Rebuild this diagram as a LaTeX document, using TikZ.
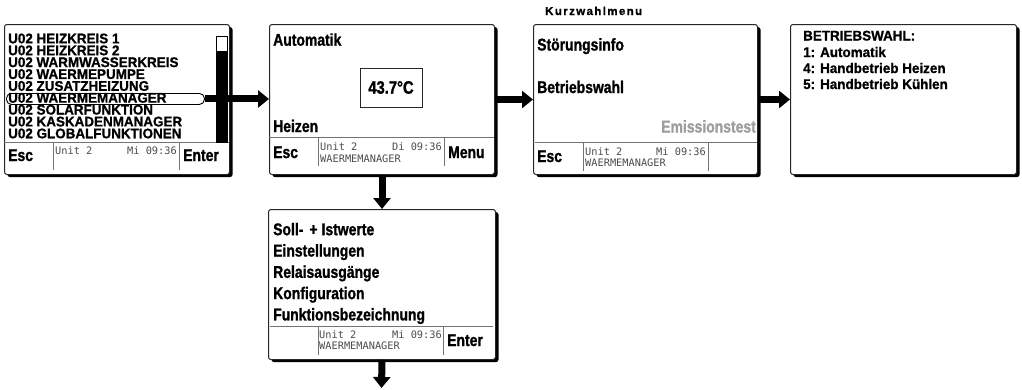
\documentclass[tikz,border=0pt]{standalone}
\usepackage{fontspec}
\setmainfont{Liberation Sans}
\newfontfamily\bodyf{Liberation Sans}[FakeStretch=0.82,FakeBold=1.2]
\newfontfamily\capsf{Liberation Sans}[FakeStretch=0.96,FakeBold=1.0]
\newfontfamily\kurzf{Liberation Sans}[LetterSpace=12,FakeBold=1.0]
\newfontfamily\monof{DejaVu Sans Mono}
\usetikzlibrary{arrows.meta,shadows}
\definecolor{lcdgray}{gray}{0.3}
\definecolor{dimgray}{gray}{0.62}
\begin{document}
\begin{tikzpicture}[x=1pt,y=-1pt,
  screen/.style={draw=black!85, line width=1pt, rounded corners=2.5pt, fill=white,
    inner sep=0, anchor=north west,
    drop shadow={shadow xshift=3pt, shadow yshift=-2.6pt, fill=black, opacity=1}},
  sepline/.style={draw=black!55, line width=0.9pt},
  bodytxt/.style={font=\bodyf\bfseries\fontsize{17}{17}\selectfont, inner sep=0, anchor=base west},
  capstxt/.style={font=\capsf\bfseries\fontsize{14}{14}\selectfont, inner sep=0, anchor=base west},
  lcd/.style={font=\monof\fontsize{10.3}{10.3}\selectfont, text=lcdgray, inner sep=0, anchor=base west},
  lcdr/.style={lcd, anchor=base east},
  bigarrow/.style={line width=7pt, -{Triangle[length=11pt, width=17pt]}},
]
\useasboundingbox (0,0) rectangle (1022,389);

% ---------- box 1 ----------
\node[screen, minimum width=225pt, minimum height=150pt] (b1) at (4,24) {};
\node[draw=black, line width=0.9pt, rounded corners=5pt, minimum width=198pt,
  minimum height=11pt, inner sep=0, anchor=north west] (hl) at (6,93) {};
\foreach \t [count=\i] in {U02 HEIZKREIS 1, U02 HEIZKREIS 2, U02 WARMWASSERKREIS,
  U02 WAERMEPUMPE, U02 ZUSATZHEIZUNG, U02 WAERMEMANAGER, U02 SOLARFUNKTION,
  U02 KASKADENMANAGER, U02 GLOBALFUNKTIONEN}
  \node[capstxt] (l\i) at (8,{31.45+11.87*\i}) {\t};
\draw[sepline] (4,142) -- (229,142);
\draw[sepline] (53,142) -- (53,170);
\draw[sepline] (179,142) -- (179,170);
\node[bodytxt] (esc1) at (8,161) {Esc};
\node[bodytxt] (ent1) at (183,161) {Enter};
\node[lcd] (u1) at (55,154.5) {Unit 2};
\node[lcdr] (d1) at (177,154.5) {Mi 09:36};

% ---------- box 2 ----------
\node[screen, minimum width=225pt, minimum height=150pt] (b2) at (269,24) {};
\node[bodytxt] (auto) at (273,45.7) {Automatik};
\node[bodytxt] (heiz) at (273,132) {Heizen};
\node[draw=black!85, line width=0.9pt, minimum width=62pt, minimum height=39pt,
  inner sep=0, font=\bodyf\bfseries\fontsize{18}{18}\selectfont] (temp) at (391,87.5) {43.7°C};
\draw[sepline] (269,137.3) -- (494,137.3);
\draw[sepline] (318,137.3) -- (318,166);
\draw[sepline] (444,137.3) -- (444,166);
\node[bodytxt] (esc2) at (273,158) {Esc};
\node[bodytxt] (menu) at (448,158) {Menu};
\node[lcd] (u2) at (320,150) {Unit 2};
\node[lcdr] (d2) at (442,150) {Di 09:36};
\node[lcd] (w2) at (320,162) {WAERMEMANAGER};

% ---------- box 3 ----------
\node[font=\kurzf\bfseries\fontsize{11.5}{11.5}\selectfont, inner sep=0, anchor=base west] (kurz) at (545,15) {Kurzwahlmenu};
\node[screen, minimum width=224pt, minimum height=150pt] (b3) at (533,24) {};
\node[bodytxt] (stoer) at (537,50.5) {Störungsinfo};
\node[bodytxt] (betr) at (537,93) {Betriebswahl};
\node[bodytxt, anchor=base east, text=dimgray] (emis) at (756,132.5) {Emissionstest};
\draw[sepline] (535,142) -- (757,142);
\draw[sepline] (583,142) -- (583,171);
\draw[sepline] (708,142) -- (708,171);
\node[bodytxt] (esc3) at (537,162) {Esc};
\node[lcd] (u3) at (585,155) {Unit 2};
\node[lcdr] (d3) at (706,155) {Mi 09:36};
\node[lcd] (w3) at (585,166.7) {WAERMEMANAGER};

% ---------- box 4 ----------
\node[screen, minimum width=226pt, minimum height=150pt] (b4) at (790,24) {};
\node[capstxt] (bw0) at (803,40.5) {BETRIEBSWAHL:};
\node[capstxt] (bw1) at (803,57) {1: Automatik};
\node[capstxt] (bw4) at (803,73) {4: Handbetrieb Heizen};
\node[capstxt] (bw5) at (803,89) {5: Handbetrieb Kühlen};

% ---------- box 5 ----------
\node[screen, minimum width=227pt, minimum height=150pt] (b5) at (268,209) {};
\foreach \t [count=\i] in {{Soll-\hspace{6pt}+\hspace{4pt}Istwerte}, Einstellungen, Relaisausgänge,
  Konfiguration, Funktionsbezeichnung}
  \node[bodytxt] (m\i) at (273,{213.9+21.3*\i}) {\t};
\draw[sepline] (270,326) -- (493,326);
\draw[sepline] (318,326) -- (318,355);
\draw[sepline] (443,326) -- (443,355);
\node[bodytxt] (ent5) at (447,346) {Enter};
\node[lcd] (u5) at (319,338) {Unit 2};
\node[lcdr] (d5) at (442,338) {Mi 09:36};
\node[lcd] (w5) at (319,349.5) {WAERMEMANAGER};

% ---------- connectors ----------
\coordinate (out) at (381.5,388);
\draw[bigarrow] (hl.east) -- (hl.east -| b2.west);
\draw[bigarrow] (b2.east) -- (b3.west);
\draw[bigarrow] (b3.east) -- (b4.west);
\draw[bigarrow] (b2.south) -- (b5.north);
\draw[bigarrow] (b5.south) -- (out);

% scrollbar of box 1 (drawn over the arrow shaft)
\node[draw=black, line width=0.9pt, fill=white, minimum width=11pt, minimum height=106pt,
  inner sep=0, anchor=north west] (sb) at (216,36) {};
\node[fill=black, minimum width=11pt, minimum height=91pt, inner sep=0,
  anchor=north west] (sbf) at (216,51) {};
\end{tikzpicture}
\end{document}
